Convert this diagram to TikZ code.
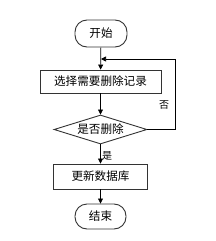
\documentclass[tikz,border=0pt]{standalone}
\usepackage{fontspec}
\newfontfamily\cjk{Noto Sans CJK SC}
\usetikzlibrary{shapes.geometric,arrows.meta}
\begin{document}
\begin{tikzpicture}[x=1pt,y=-1pt,
  every node/.style={font=\cjk\fontsize{11.6}{13}\selectfont},
  box/.style={draw=black!80,line width=0.9pt,inner sep=0pt},
  term/.style={box,rounded corners=12pt},
  dec/.style={box,diamond,aspect=3.2},
  lab/.style={font=\cjk\fontsize{10}{12}\selectfont,inner sep=0pt},
  arr/.style={draw=black,line width=0.7pt,-{Triangle[length=5pt,width=5pt]}}]
\useasboundingbox (0,0) rectangle (215,241);
\node[term,minimum width=52pt,minimum height=27pt] (s) at (101,33.5) {开始};
\node[box,minimum width=121pt,minimum height=23pt] (r1) at (100.5,81.5) {选择需要删除记录};
\node[dec,minimum width=93pt,minimum height=29pt] (d) at (100.5,129.5) {是否删除};
\node[box,minimum width=94pt,minimum height=25pt] (r2) at (100.5,176.5) {更新数据库};
\node[term,minimum width=51pt,minimum height=25pt] (e) at (100.5,216.5) {结束};
\coordinate (j) at (101,59);
\coordinate (c) at (175,59);
\draw[arr] (s) -- (r1);
\draw[arr] (r1) -- (d);
\draw[arr] (d) -- (r2);
\draw[arr] (r2) -- (e);
\draw[arr] (d.east) -| (c) -- (j);
\node[lab] (no) at (164,105) {否};
\node[lab] (yes) at (107,156) {是};
\end{tikzpicture}
\end{document}
